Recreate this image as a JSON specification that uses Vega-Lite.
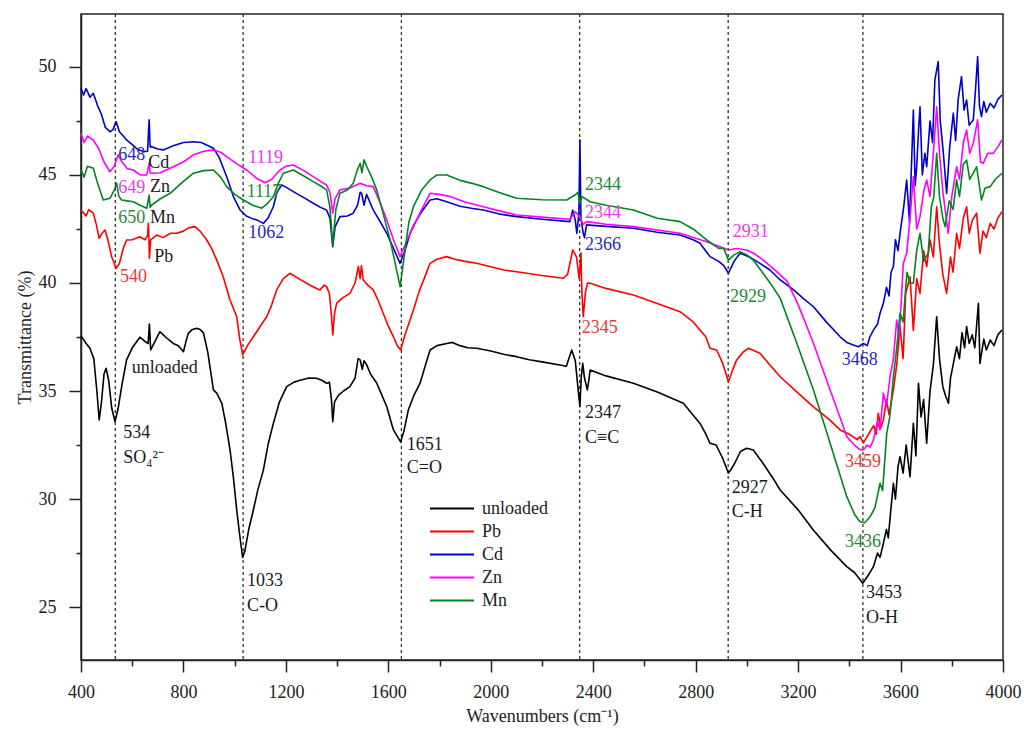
{
"$schema": "https://vega.github.io/schema/vega-lite/v6.json",
"width": 922, "height": 646,
"autosize": "none",
"padding": {"left": 81, "top": 14, "right": 21, "bottom": 78},
"background": "white",
"config": {
  "view": {"stroke": "#222", "strokeWidth": 1.5},
  "axis": {"grid": false, "domainColor": "#222", "domainWidth": 1.5, "tickColor": "#222", "tickWidth": 1.5, "labelColor": "#222", "labelFont": "Liberation Serif", "labelFontSize": 18, "titleFont": "Liberation Serif", "titleFontSize": 18, "titleFontWeight": "normal", "titleColor": "#222"}
},
"resolve": {"scale": {"color": "independent"}},
"layer": [
 {
  "data": {"values": [{"v": 534}, {"v": 1033}, {"v": 1651}, {"v": 2347}, {"v": 2927}, {"v": 3453}]},
  "mark": {"type": "rule", "color": "#333", "strokeWidth": 1.3, "strokeDash": [3, 3]},
  "encoding": {"x": {"field": "v", "type": "quantitative", "scale": {"domain": [400, 4000], "nice": false, "zero": false}}}
 },
 {
  "data": {"values": [
{"s":"unloaded","x":400,"y":37.55},{"s":"unloaded","x":420,"y":37.2},{"s":"unloaded","x":435,"y":36.98},{"s":"unloaded","x":450,"y":36.5},{"s":"unloaded","x":462,"y":35.0},{"s":"unloaded","x":471,"y":33.66},{"s":"unloaded","x":480,"y":34.5},{"s":"unloaded","x":490,"y":35.8},{"s":"unloaded","x":498,"y":36.05},{"s":"unloaded","x":508,"y":35.5},{"s":"unloaded","x":520,"y":34.2},{"s":"unloaded","x":533,"y":33.58},{"s":"unloaded","x":545,"y":34.2},{"s":"unloaded","x":560,"y":35.3},{"s":"unloaded","x":578,"y":36.44},{"s":"unloaded","x":600,"y":37.0},{"s":"unloaded","x":630,"y":37.49},{"s":"unloaded","x":650,"y":37.3},{"s":"unloaded","x":662,"y":37.2},{"s":"unloaded","x":667,"y":38.1},{"s":"unloaded","x":670,"y":37.4},{"s":"unloaded","x":672,"y":36.9},{"s":"unloaded","x":685,"y":37.2},{"s":"unloaded","x":708,"y":37.75},{"s":"unloaded","x":730,"y":37.5},{"s":"unloaded","x":760,"y":37.2},{"s":"unloaded","x":780,"y":37.1},{"s":"unloaded","x":800,"y":36.82},{"s":"unloaded","x":810,"y":37.3},{"s":"unloaded","x":819,"y":37.67},{"s":"unloaded","x":835,"y":37.85},{"s":"unloaded","x":852,"y":37.9},{"s":"unloaded","x":865,"y":37.85},{"s":"unloaded","x":878,"y":37.69},{"s":"unloaded","x":895,"y":36.8},{"s":"unloaded","x":917,"y":35.05},{"s":"unloaded","x":930,"y":34.9},{"s":"unloaded","x":950,"y":34.43},{"s":"unloaded","x":965,"y":33.5},{"s":"unloaded","x":982,"y":32.27},{"s":"unloaded","x":995,"y":31.0},{"s":"unloaded","x":1008,"y":29.49},{"s":"unloaded","x":1020,"y":28.3},{"s":"unloaded","x":1031,"y":27.3},{"s":"unloaded","x":1040,"y":27.6},{"s":"unloaded","x":1055,"y":28.6},{"s":"unloaded","x":1073,"y":29.49},{"s":"unloaded","x":1090,"y":30.4},{"s":"unloaded","x":1112,"y":31.34},{"s":"unloaded","x":1130,"y":32.5},{"s":"unloaded","x":1151,"y":33.5},{"s":"unloaded","x":1175,"y":34.5},{"s":"unloaded","x":1203,"y":35.2},{"s":"unloaded","x":1230,"y":35.4},{"s":"unloaded","x":1255,"y":35.5},{"s":"unloaded","x":1290,"y":35.6},{"s":"unloaded","x":1320,"y":35.59},{"s":"unloaded","x":1340,"y":35.5},{"s":"unloaded","x":1359,"y":35.36},{"s":"unloaded","x":1370,"y":35.4},{"s":"unloaded","x":1378,"y":34.6},{"s":"unloaded","x":1383,"y":33.58},{"s":"unloaded","x":1390,"y":34.5},{"s":"unloaded","x":1405,"y":34.8},{"s":"unloaded","x":1425,"y":35.0},{"s":"unloaded","x":1450,"y":35.2},{"s":"unloaded","x":1470,"y":35.6},{"s":"unloaded","x":1482,"y":36.5},{"s":"unloaded","x":1490,"y":36.44},{"s":"unloaded","x":1498,"y":36.0},{"s":"unloaded","x":1505,"y":36.4},{"s":"unloaded","x":1516,"y":36.2},{"s":"unloaded","x":1530,"y":35.8},{"s":"unloaded","x":1555,"y":35.36},{"s":"unloaded","x":1575,"y":34.8},{"s":"unloaded","x":1594,"y":34.27},{"s":"unloaded","x":1610,"y":33.6},{"s":"unloaded","x":1620,"y":33.2},{"s":"unloaded","x":1635,"y":32.9},{"s":"unloaded","x":1648,"y":32.65},{"s":"unloaded","x":1660,"y":33.1},{"s":"unloaded","x":1678,"y":34.12},{"s":"unloaded","x":1700,"y":34.8},{"s":"unloaded","x":1724,"y":35.36},{"s":"unloaded","x":1745,"y":36.2},{"s":"unloaded","x":1763,"y":36.9},{"s":"unloaded","x":1790,"y":37.1},{"s":"unloaded","x":1828,"y":37.2},{"s":"unloaded","x":1850,"y":37.25},{"s":"unloaded","x":1880,"y":37.1},{"s":"unloaded","x":1910,"y":37.0},{"s":"unloaded","x":1945,"y":36.98},{"s":"unloaded","x":2000,"y":36.85},{"s":"unloaded","x":2050,"y":36.7},{"s":"unloaded","x":2101,"y":36.59},{"s":"unloaded","x":2150,"y":36.45},{"s":"unloaded","x":2200,"y":36.35},{"s":"unloaded","x":2270,"y":36.2},{"s":"unloaded","x":2295,"y":36.15},{"s":"unloaded","x":2316,"y":36.9},{"s":"unloaded","x":2330,"y":36.4},{"s":"unloaded","x":2340,"y":35.2},{"s":"unloaded","x":2348,"y":34.27},{"s":"unloaded","x":2353,"y":35.6},{"s":"unloaded","x":2359,"y":36.28},{"s":"unloaded","x":2366,"y":35.6},{"s":"unloaded","x":2377,"y":35.05},{"s":"unloaded","x":2383,"y":35.5},{"s":"unloaded","x":2388,"y":35.97},{"s":"unloaded","x":2450,"y":35.7},{"s":"unloaded","x":2557,"y":35.36},{"s":"unloaded","x":2650,"y":34.95},{"s":"unloaded","x":2752,"y":34.43},{"s":"unloaded","x":2817,"y":33.5},{"s":"unloaded","x":2840,"y":33.0},{"s":"unloaded","x":2856,"y":32.58},{"s":"unloaded","x":2880,"y":32.5},{"s":"unloaded","x":2905,"y":31.9},{"s":"unloaded","x":2928,"y":31.19},{"s":"unloaded","x":2950,"y":31.6},{"s":"unloaded","x":2975,"y":32.2},{"s":"unloaded","x":2999,"y":32.35},{"s":"unloaded","x":3025,"y":32.27},{"s":"unloaded","x":3060,"y":31.7},{"s":"unloaded","x":3100,"y":31.0},{"s":"unloaded","x":3130,"y":30.42},{"s":"unloaded","x":3200,"y":29.5},{"s":"unloaded","x":3260,"y":28.56},{"s":"unloaded","x":3330,"y":27.6},{"s":"unloaded","x":3390,"y":26.87},{"s":"unloaded","x":3420,"y":26.6},{"s":"unloaded","x":3440,"y":26.3},{"s":"unloaded","x":3452,"y":26.1},{"s":"unloaded","x":3470,"y":26.4},{"s":"unloaded","x":3494,"y":26.87},{"s":"unloaded","x":3510,"y":27.5},{"s":"unloaded","x":3520,"y":27.3},{"s":"unloaded","x":3533,"y":27.95},{"s":"unloaded","x":3545,"y":28.6},{"s":"unloaded","x":3552,"y":28.2},{"s":"unloaded","x":3562,"y":29.5},{"s":"unloaded","x":3572,"y":30.73},{"s":"unloaded","x":3580,"y":30.0},{"s":"unloaded","x":3590,"y":31.5},{"s":"unloaded","x":3598,"y":31.96},{"s":"unloaded","x":3610,"y":31.2},{"s":"unloaded","x":3622,"y":32.5},{"s":"unloaded","x":3637,"y":31.03},{"s":"unloaded","x":3650,"y":33.5},{"s":"unloaded","x":3660,"y":32.0},{"s":"unloaded","x":3670,"y":35.36},{"s":"unloaded","x":3680,"y":33.8},{"s":"unloaded","x":3690,"y":34.6},{"s":"unloaded","x":3702,"y":32.58},{"s":"unloaded","x":3715,"y":35.0},{"s":"unloaded","x":3728,"y":36.2},{"s":"unloaded","x":3741,"y":38.44},{"s":"unloaded","x":3752,"y":36.5},{"s":"unloaded","x":3765,"y":35.2},{"s":"unloaded","x":3775,"y":34.8},{"s":"unloaded","x":3787,"y":34.43},{"s":"unloaded","x":3795,"y":35.6},{"s":"unloaded","x":3805,"y":36.2},{"s":"unloaded","x":3819,"y":37.05},{"s":"unloaded","x":3830,"y":36.5},{"s":"unloaded","x":3840,"y":37.7},{"s":"unloaded","x":3850,"y":37.0},{"s":"unloaded","x":3858,"y":37.98},{"s":"unloaded","x":3868,"y":37.2},{"s":"unloaded","x":3880,"y":37.6},{"s":"unloaded","x":3890,"y":37.0},{"s":"unloaded","x":3904,"y":39.06},{"s":"unloaded","x":3910,"y":36.28},{"s":"unloaded","x":3925,"y":37.4},{"s":"unloaded","x":3935,"y":36.9},{"s":"unloaded","x":3950,"y":37.36},{"s":"unloaded","x":3965,"y":37.1},{"s":"unloaded","x":3980,"y":37.6},{"s":"unloaded","x":3996,"y":37.82},
{"s":"Pb","x":400,"y":43.38},{"s":"Pb","x":420,"y":43.1},{"s":"Pb","x":430,"y":43.4},{"s":"Pb","x":448,"y":43.23},{"s":"Pb","x":460,"y":42.7},{"s":"Pb","x":471,"y":42.07},{"s":"Pb","x":482,"y":42.3},{"s":"Pb","x":494,"y":42.45},{"s":"Pb","x":505,"y":42.0},{"s":"Pb","x":520,"y":41.2},{"s":"Pb","x":537,"y":40.68},{"s":"Pb","x":550,"y":40.9},{"s":"Pb","x":565,"y":41.6},{"s":"Pb","x":578,"y":41.99},{"s":"Pb","x":600,"y":42.0},{"s":"Pb","x":630,"y":42.14},{"s":"Pb","x":650,"y":42.0},{"s":"Pb","x":660,"y":42.2},{"s":"Pb","x":663,"y":42.76},{"s":"Pb","x":665,"y":42.2},{"s":"Pb","x":667,"y":41.14},{"s":"Pb","x":672,"y":42.0},{"s":"Pb","x":696,"y":42.22},{"s":"Pb","x":720,"y":42.1},{"s":"Pb","x":750,"y":42.3},{"s":"Pb","x":774,"y":42.3},{"s":"Pb","x":800,"y":42.4},{"s":"Pb","x":820,"y":42.55},{"s":"Pb","x":845,"y":42.61},{"s":"Pb","x":865,"y":42.4},{"s":"Pb","x":891,"y":41.99},{"s":"Pb","x":910,"y":41.6},{"s":"Pb","x":930,"y":41.06},{"s":"Pb","x":955,"y":40.3},{"s":"Pb","x":982,"y":39.21},{"s":"Pb","x":1008,"y":38.44},{"s":"Pb","x":1020,"y":37.4},{"s":"Pb","x":1031,"y":36.67},{"s":"Pb","x":1050,"y":37.1},{"s":"Pb","x":1073,"y":37.51},{"s":"Pb","x":1100,"y":38.0},{"s":"Pb","x":1125,"y":38.44},{"s":"Pb","x":1145,"y":39.0},{"s":"Pb","x":1164,"y":39.68},{"s":"Pb","x":1190,"y":40.2},{"s":"Pb","x":1216,"y":40.45},{"s":"Pb","x":1250,"y":40.2},{"s":"Pb","x":1281,"y":39.99},{"s":"Pb","x":1310,"y":39.8},{"s":"Pb","x":1333,"y":39.68},{"s":"Pb","x":1350,"y":39.9},{"s":"Pb","x":1359,"y":39.83},{"s":"Pb","x":1370,"y":39.5},{"s":"Pb","x":1378,"y":38.5},{"s":"Pb","x":1383,"y":37.59},{"s":"Pb","x":1390,"y":38.6},{"s":"Pb","x":1398,"y":39.06},{"s":"Pb","x":1420,"y":39.3},{"s":"Pb","x":1450,"y":39.52},{"s":"Pb","x":1470,"y":40.0},{"s":"Pb","x":1483,"y":40.76},{"s":"Pb","x":1490,"y":40.2},{"s":"Pb","x":1495,"y":40.8},{"s":"Pb","x":1502,"y":40.14},{"s":"Pb","x":1520,"y":39.9},{"s":"Pb","x":1541,"y":39.68},{"s":"Pb","x":1560,"y":39.2},{"s":"Pb","x":1580,"y":38.6},{"s":"Pb","x":1600,"y":38.0},{"s":"Pb","x":1620,"y":37.51},{"s":"Pb","x":1635,"y":37.1},{"s":"Pb","x":1648,"y":36.9},{"s":"Pb","x":1665,"y":37.6},{"s":"Pb","x":1698,"y":38.75},{"s":"Pb","x":1720,"y":39.6},{"s":"Pb","x":1740,"y":40.2},{"s":"Pb","x":1763,"y":40.91},{"s":"Pb","x":1790,"y":41.1},{"s":"Pb","x":1828,"y":41.22},{"s":"Pb","x":1860,"y":41.1},{"s":"Pb","x":1900,"y":41.0},{"s":"Pb","x":1945,"y":40.91},{"s":"Pb","x":2000,"y":40.75},{"s":"Pb","x":2050,"y":40.6},{"s":"Pb","x":2101,"y":40.52},{"s":"Pb","x":2200,"y":40.35},{"s":"Pb","x":2283,"y":40.22},{"s":"Pb","x":2300,"y":40.4},{"s":"Pb","x":2320,"y":41.53},{"s":"Pb","x":2335,"y":41.2},{"s":"Pb","x":2345,"y":40.2},{"s":"Pb","x":2352,"y":41.4},{"s":"Pb","x":2356,"y":39.5},{"s":"Pb","x":2361,"y":38.44},{"s":"Pb","x":2370,"y":39.6},{"s":"Pb","x":2378,"y":40.0},{"s":"Pb","x":2388,"y":39.99},{"s":"Pb","x":2450,"y":39.75},{"s":"Pb","x":2557,"y":39.44},{"s":"Pb","x":2650,"y":39.05},{"s":"Pb","x":2739,"y":38.67},{"s":"Pb","x":2790,"y":38.2},{"s":"Pb","x":2817,"y":37.82},{"s":"Pb","x":2840,"y":37.5},{"s":"Pb","x":2856,"y":36.98},{"s":"Pb","x":2882,"y":36.9},{"s":"Pb","x":2905,"y":36.3},{"s":"Pb","x":2928,"y":35.43},{"s":"Pb","x":2945,"y":36.0},{"s":"Pb","x":2960,"y":36.44},{"s":"Pb","x":2985,"y":36.8},{"s":"Pb","x":3006,"y":36.98},{"s":"Pb","x":3051,"y":36.75},{"s":"Pb","x":3090,"y":36.2},{"s":"Pb","x":3130,"y":35.66},{"s":"Pb","x":3200,"y":34.9},{"s":"Pb","x":3260,"y":34.27},{"s":"Pb","x":3320,"y":33.7},{"s":"Pb","x":3364,"y":33.2},{"s":"Pb","x":3400,"y":33.0},{"s":"Pb","x":3430,"y":32.75},{"s":"Pb","x":3442,"y":32.89},{"s":"Pb","x":3455,"y":32.6},{"s":"Pb","x":3470,"y":32.9},{"s":"Pb","x":3481,"y":33.12},{"s":"Pb","x":3495,"y":33.4},{"s":"Pb","x":3505,"y":33.0},{"s":"Pb","x":3513,"y":33.97},{"s":"Pb","x":3523,"y":33.3},{"s":"Pb","x":3533,"y":33.66},{"s":"Pb","x":3545,"y":34.6},{"s":"Pb","x":3555,"y":33.9},{"s":"Pb","x":3572,"y":35.05},{"s":"Pb","x":3585,"y":36.2},{"s":"Pb","x":3598,"y":37.98},{"s":"Pb","x":3610,"y":36.5},{"s":"Pb","x":3620,"y":39.5},{"s":"Pb","x":3637,"y":40.29},{"s":"Pb","x":3650,"y":37.8},{"s":"Pb","x":3663,"y":40.2},{"s":"Pb","x":3676,"y":39.52},{"s":"Pb","x":3690,"y":41.5},{"s":"Pb","x":3702,"y":40.76},{"s":"Pb","x":3715,"y":42.0},{"s":"Pb","x":3728,"y":41.2},{"s":"Pb","x":3741,"y":43.53},{"s":"Pb","x":3752,"y":41.8},{"s":"Pb","x":3765,"y":40.4},{"s":"Pb","x":3780,"y":39.52},{"s":"Pb","x":3795,"y":41.2},{"s":"Pb","x":3805,"y":40.5},{"s":"Pb","x":3819,"y":42.3},{"s":"Pb","x":3830,"y":41.6},{"s":"Pb","x":3845,"y":43.0},{"s":"Pb","x":3858,"y":43.53},{"s":"Pb","x":3868,"y":42.3},{"s":"Pb","x":3880,"y":42.9},{"s":"Pb","x":3897,"y":43.23},{"s":"Pb","x":3910,"y":41.38},{"s":"Pb","x":3922,"y":42.4},{"s":"Pb","x":3935,"y":42.1},{"s":"Pb","x":3950,"y":42.76},{"s":"Pb","x":3965,"y":42.5},{"s":"Pb","x":3980,"y":43.0},{"s":"Pb","x":3996,"y":43.3},
{"s":"Cd","x":400,"y":49.01},{"s":"Cd","x":410,"y":48.7},{"s":"Cd","x":420,"y":49.0},{"s":"Cd","x":435,"y":48.6},{"s":"Cd","x":448,"y":48.78},{"s":"Cd","x":465,"y":48.2},{"s":"Cd","x":480,"y":47.8},{"s":"Cd","x":495,"y":47.2},{"s":"Cd","x":513,"y":47.0},{"s":"Cd","x":525,"y":47.1},{"s":"Cd","x":537,"y":47.47},{"s":"Cd","x":550,"y":47.0},{"s":"Cd","x":565,"y":46.8},{"s":"Cd","x":578,"y":46.62},{"s":"Cd","x":600,"y":46.4},{"s":"Cd","x":620,"y":46.2},{"s":"Cd","x":643,"y":46.08},{"s":"Cd","x":660,"y":46.1},{"s":"Cd","x":666,"y":47.55},{"s":"Cd","x":670,"y":46.3},{"s":"Cd","x":676,"y":46.31},{"s":"Cd","x":700,"y":46.2},{"s":"Cd","x":721,"y":46.16},{"s":"Cd","x":760,"y":46.35},{"s":"Cd","x":800,"y":46.5},{"s":"Cd","x":839,"y":46.54},{"s":"Cd","x":870,"y":46.5},{"s":"Cd","x":917,"y":46.24},{"s":"Cd","x":940,"y":45.8},{"s":"Cd","x":969,"y":44.92},{"s":"Cd","x":995,"y":44.0},{"s":"Cd","x":1021,"y":43.38},{"s":"Cd","x":1045,"y":43.1},{"s":"Cd","x":1067,"y":42.99},{"s":"Cd","x":1090,"y":42.9},{"s":"Cd","x":1112,"y":42.76},{"s":"Cd","x":1130,"y":43.0},{"s":"Cd","x":1151,"y":43.53},{"s":"Cd","x":1165,"y":44.2},{"s":"Cd","x":1184,"y":44.54},{"s":"Cd","x":1205,"y":44.4},{"s":"Cd","x":1229,"y":44.23},{"s":"Cd","x":1270,"y":43.95},{"s":"Cd","x":1307,"y":43.69},{"s":"Cd","x":1335,"y":43.5},{"s":"Cd","x":1359,"y":43.38},{"s":"Cd","x":1372,"y":43.0},{"s":"Cd","x":1383,"y":41.68},{"s":"Cd","x":1392,"y":42.6},{"s":"Cd","x":1411,"y":43.07},{"s":"Cd","x":1440,"y":43.1},{"s":"Cd","x":1463,"y":43.23},{"s":"Cd","x":1480,"y":43.6},{"s":"Cd","x":1490,"y":44.2},{"s":"Cd","x":1496,"y":44.15},{"s":"Cd","x":1505,"y":43.6},{"s":"Cd","x":1515,"y":44.1},{"s":"Cd","x":1541,"y":43.38},{"s":"Cd","x":1570,"y":42.8},{"s":"Cd","x":1594,"y":42.3},{"s":"Cd","x":1620,"y":41.6},{"s":"Cd","x":1646,"y":40.91},{"s":"Cd","x":1665,"y":41.5},{"s":"Cd","x":1685,"y":42.3},{"s":"Cd","x":1700,"y":42.7},{"s":"Cd","x":1715,"y":43.0},{"s":"Cd","x":1730,"y":43.3},{"s":"Cd","x":1763,"y":43.84},{"s":"Cd","x":1790,"y":43.9},{"s":"Cd","x":1828,"y":43.76},{"s":"Cd","x":1880,"y":43.55},{"s":"Cd","x":1930,"y":43.45},{"s":"Cd","x":1971,"y":43.38},{"s":"Cd","x":2030,"y":43.2},{"s":"Cd","x":2101,"y":43.07},{"s":"Cd","x":2200,"y":42.95},{"s":"Cd","x":2309,"y":42.84},{"s":"Cd","x":2320,"y":43.38},{"s":"Cd","x":2330,"y":42.9},{"s":"Cd","x":2336,"y":42.3},{"s":"Cd","x":2344,"y":43.2},{"s":"Cd","x":2348,"y":46.62},{"s":"Cd","x":2352,"y":43.0},{"s":"Cd","x":2361,"y":42.3},{"s":"Cd","x":2366,"y":42.1},{"s":"Cd","x":2374,"y":42.69},{"s":"Cd","x":2450,"y":42.62},{"s":"Cd","x":2557,"y":42.53},{"s":"Cd","x":2650,"y":42.35},{"s":"Cd","x":2739,"y":42.22},{"s":"Cd","x":2790,"y":42.0},{"s":"Cd","x":2817,"y":41.84},{"s":"Cd","x":2856,"y":41.22},{"s":"Cd","x":2890,"y":41.0},{"s":"Cd","x":2910,"y":40.8},{"s":"Cd","x":2928,"y":40.45},{"s":"Cd","x":2950,"y":41.0},{"s":"Cd","x":2973,"y":41.38},{"s":"Cd","x":3010,"y":41.2},{"s":"Cd","x":3051,"y":40.91},{"s":"Cd","x":3090,"y":40.6},{"s":"Cd","x":3130,"y":40.14},{"s":"Cd","x":3180,"y":39.7},{"s":"Cd","x":3220,"y":39.29},{"s":"Cd","x":3260,"y":38.9},{"s":"Cd","x":3310,"y":38.2},{"s":"Cd","x":3364,"y":37.51},{"s":"Cd","x":3390,"y":37.25},{"s":"Cd","x":3416,"y":37.13},{"s":"Cd","x":3435,"y":37.05},{"s":"Cd","x":3455,"y":37.2},{"s":"Cd","x":3470,"y":37.1},{"s":"Cd","x":3480,"y":37.5},{"s":"Cd","x":3494,"y":37.82},{"s":"Cd","x":3510,"y":38.1},{"s":"Cd","x":3520,"y":38.6},{"s":"Cd","x":3533,"y":39.06},{"s":"Cd","x":3545,"y":39.8},{"s":"Cd","x":3555,"y":39.4},{"s":"Cd","x":3563,"y":40.5},{"s":"Cd","x":3572,"y":40.76},{"s":"Cd","x":3580,"y":42.0},{"s":"Cd","x":3590,"y":41.5},{"s":"Cd","x":3598,"y":42.3},{"s":"Cd","x":3612,"y":43.5},{"s":"Cd","x":3624,"y":44.77},{"s":"Cd","x":3635,"y":42.8},{"s":"Cd","x":3650,"y":48.01},{"s":"Cd","x":3657,"y":44.5},{"s":"Cd","x":3663,"y":45.38},{"s":"Cd","x":3670,"y":47.0},{"s":"Cd","x":3676,"y":48.16},{"s":"Cd","x":3685,"y":45.0},{"s":"Cd","x":3695,"y":46.0},{"s":"Cd","x":3702,"y":45.38},{"s":"Cd","x":3715,"y":47.5},{"s":"Cd","x":3725,"y":46.5},{"s":"Cd","x":3734,"y":49.4},{"s":"Cd","x":3747,"y":50.25},{"s":"Cd","x":3755,"y":47.5},{"s":"Cd","x":3766,"y":46.16},{"s":"Cd","x":3780,"y":44.15},{"s":"Cd","x":3792,"y":46.3},{"s":"Cd","x":3806,"y":47.86},{"s":"Cd","x":3815,"y":46.6},{"s":"Cd","x":3825,"y":48.5},{"s":"Cd","x":3838,"y":49.55},{"s":"Cd","x":3848,"y":48.0},{"s":"Cd","x":3858,"y":48.47},{"s":"Cd","x":3868,"y":47.3},{"s":"Cd","x":3884,"y":47.55},{"s":"Cd","x":3893,"y":49.0},{"s":"Cd","x":3901,"y":50.48},{"s":"Cd","x":3908,"y":48.2},{"s":"Cd","x":3916,"y":47.7},{"s":"Cd","x":3925,"y":48.4},{"s":"Cd","x":3935,"y":47.9},{"s":"Cd","x":3950,"y":48.32},{"s":"Cd","x":3965,"y":48.1},{"s":"Cd","x":3980,"y":48.5},{"s":"Cd","x":3996,"y":48.7},
{"s":"Zn","x":400,"y":46.93},{"s":"Zn","x":412,"y":46.5},{"s":"Zn","x":425,"y":46.8},{"s":"Zn","x":448,"y":46.62},{"s":"Zn","x":470,"y":46.2},{"s":"Zn","x":490,"y":45.6},{"s":"Zn","x":513,"y":45.15},{"s":"Zn","x":530,"y":45.4},{"s":"Zn","x":545,"y":45.93},{"s":"Zn","x":560,"y":45.6},{"s":"Zn","x":580,"y":45.3},{"s":"Zn","x":604,"y":45.23},{"s":"Zn","x":630,"y":45.0},{"s":"Zn","x":657,"y":45.0},{"s":"Zn","x":666,"y":45.54},{"s":"Zn","x":670,"y":45.1},{"s":"Zn","x":676,"y":45.08},{"s":"Zn","x":710,"y":45.1},{"s":"Zn","x":748,"y":45.31},{"s":"Zn","x":800,"y":45.6},{"s":"Zn","x":839,"y":45.93},{"s":"Zn","x":880,"y":46.1},{"s":"Zn","x":917,"y":46.16},{"s":"Zn","x":945,"y":46.05},{"s":"Zn","x":969,"y":45.85},{"s":"Zn","x":1010,"y":45.5},{"s":"Zn","x":1047,"y":45.23},{"s":"Zn","x":1085,"y":44.85},{"s":"Zn","x":1119,"y":44.64},{"s":"Zn","x":1145,"y":44.8},{"s":"Zn","x":1177,"y":45.23},{"s":"Zn","x":1200,"y":45.4},{"s":"Zn","x":1229,"y":45.46},{"s":"Zn","x":1270,"y":45.2},{"s":"Zn","x":1307,"y":44.92},{"s":"Zn","x":1335,"y":44.7},{"s":"Zn","x":1359,"y":44.54},{"s":"Zn","x":1372,"y":44.2},{"s":"Zn","x":1383,"y":43.23},{"s":"Zn","x":1392,"y":43.9},{"s":"Zn","x":1411,"y":44.31},{"s":"Zn","x":1450,"y":44.4},{"s":"Zn","x":1490,"y":44.62},{"s":"Zn","x":1515,"y":44.5},{"s":"Zn","x":1541,"y":44.46},{"s":"Zn","x":1565,"y":43.8},{"s":"Zn","x":1594,"y":42.92},{"s":"Zn","x":1620,"y":42.0},{"s":"Zn","x":1646,"y":41.22},{"s":"Zn","x":1670,"y":41.9},{"s":"Zn","x":1698,"y":42.61},{"s":"Zn","x":1730,"y":43.4},{"s":"Zn","x":1763,"y":44.15},{"s":"Zn","x":1800,"y":44.1},{"s":"Zn","x":1841,"y":44.0},{"s":"Zn","x":1900,"y":43.75},{"s":"Zn","x":1971,"y":43.53},{"s":"Zn","x":2030,"y":43.35},{"s":"Zn","x":2101,"y":43.15},{"s":"Zn","x":2200,"y":43.05},{"s":"Zn","x":2309,"y":42.95},{"s":"Zn","x":2330,"y":43.3},{"s":"Zn","x":2348,"y":43.07},{"s":"Zn","x":2360,"y":42.7},{"s":"Zn","x":2374,"y":42.84},{"s":"Zn","x":2450,"y":42.72},{"s":"Zn","x":2557,"y":42.61},{"s":"Zn","x":2650,"y":42.45},{"s":"Zn","x":2739,"y":42.3},{"s":"Zn","x":2843,"y":41.91},{"s":"Zn","x":2890,"y":41.7},{"s":"Zn","x":2928,"y":41.53},{"s":"Zn","x":2960,"y":41.6},{"s":"Zn","x":2999,"y":41.53},{"s":"Zn","x":3030,"y":41.35},{"s":"Zn","x":3064,"y":41.06},{"s":"Zn","x":3100,"y":40.7},{"s":"Zn","x":3156,"y":40.1},{"s":"Zn","x":3200,"y":39.0},{"s":"Zn","x":3260,"y":37.21},{"s":"Zn","x":3290,"y":36.2},{"s":"Zn","x":3325,"y":35.05},{"s":"Zn","x":3360,"y":33.9},{"s":"Zn","x":3390,"y":32.89},{"s":"Zn","x":3420,"y":32.5},{"s":"Zn","x":3440,"y":32.3},{"s":"Zn","x":3455,"y":32.27},{"s":"Zn","x":3470,"y":32.5},{"s":"Zn","x":3481,"y":32.4},{"s":"Zn","x":3494,"y":32.73},{"s":"Zn","x":3510,"y":33.6},{"s":"Zn","x":3520,"y":33.2},{"s":"Zn","x":3533,"y":34.9},{"s":"Zn","x":3545,"y":34.3},{"s":"Zn","x":3559,"y":35.66},{"s":"Zn","x":3572,"y":36.5},{"s":"Zn","x":3585,"y":38.29},{"s":"Zn","x":3595,"y":37.5},{"s":"Zn","x":3611,"y":40.91},{"s":"Zn","x":3624,"y":41.38},{"s":"Zn","x":3637,"y":43.0},{"s":"Zn","x":3650,"y":44.92},{"s":"Zn","x":3663,"y":42.5},{"s":"Zn","x":3676,"y":43.07},{"s":"Zn","x":3690,"y":44.2},{"s":"Zn","x":3702,"y":44.77},{"s":"Zn","x":3715,"y":44.0},{"s":"Zn","x":3728,"y":46.0},{"s":"Zn","x":3741,"y":48.16},{"s":"Zn","x":3752,"y":46.0},{"s":"Zn","x":3766,"y":44.15},{"s":"Zn","x":3786,"y":42.3},{"s":"Zn","x":3800,"y":44.0},{"s":"Zn","x":3819,"y":45.38},{"s":"Zn","x":3830,"y":44.8},{"s":"Zn","x":3845,"y":46.5},{"s":"Zn","x":3858,"y":47.08},{"s":"Zn","x":3870,"y":46.0},{"s":"Zn","x":3884,"y":46.47},{"s":"Zn","x":3901,"y":47.55},{"s":"Zn","x":3912,"y":45.6},{"s":"Zn","x":3923,"y":45.54},{"s":"Zn","x":3940,"y":46.0},{"s":"Zn","x":3962,"y":46.0},{"s":"Zn","x":3980,"y":46.3},{"s":"Zn","x":3996,"y":46.62},
{"s":"Mn","x":400,"y":45.23},{"s":"Mn","x":412,"y":44.9},{"s":"Mn","x":425,"y":45.4},{"s":"Mn","x":448,"y":45.31},{"s":"Mn","x":465,"y":44.6},{"s":"Mn","x":487,"y":43.84},{"s":"Mn","x":513,"y":43.92},{"s":"Mn","x":530,"y":44.3},{"s":"Mn","x":539,"y":44.62},{"s":"Mn","x":548,"y":44.0},{"s":"Mn","x":559,"y":43.84},{"s":"Mn","x":580,"y":43.8},{"s":"Mn","x":604,"y":43.76},{"s":"Mn","x":630,"y":43.6},{"s":"Mn","x":657,"y":43.46},{"s":"Mn","x":666,"y":44.07},{"s":"Mn","x":670,"y":43.5},{"s":"Mn","x":676,"y":43.61},{"s":"Mn","x":710,"y":43.9},{"s":"Mn","x":748,"y":44.15},{"s":"Mn","x":800,"y":44.7},{"s":"Mn","x":839,"y":45.08},{"s":"Mn","x":880,"y":45.2},{"s":"Mn","x":917,"y":45.23},{"s":"Mn","x":945,"y":44.9},{"s":"Mn","x":969,"y":44.46},{"s":"Mn","x":1000,"y":44.1},{"s":"Mn","x":1034,"y":43.84},{"s":"Mn","x":1070,"y":43.6},{"s":"Mn","x":1106,"y":43.46},{"s":"Mn","x":1130,"y":43.7},{"s":"Mn","x":1151,"y":44.0},{"s":"Mn","x":1170,"y":44.6},{"s":"Mn","x":1190,"y":45.08},{"s":"Mn","x":1229,"y":45.23},{"s":"Mn","x":1270,"y":44.95},{"s":"Mn","x":1307,"y":44.69},{"s":"Mn","x":1335,"y":44.5},{"s":"Mn","x":1359,"y":44.31},{"s":"Mn","x":1372,"y":43.5},{"s":"Mn","x":1383,"y":41.76},{"s":"Mn","x":1395,"y":43.4},{"s":"Mn","x":1411,"y":44.15},{"s":"Mn","x":1440,"y":44.3},{"s":"Mn","x":1463,"y":44.62},{"s":"Mn","x":1478,"y":45.2},{"s":"Mn","x":1490,"y":45.54},{"s":"Mn","x":1497,"y":45.1},{"s":"Mn","x":1505,"y":45.7},{"s":"Mn","x":1516,"y":45.38},{"s":"Mn","x":1535,"y":44.9},{"s":"Mn","x":1555,"y":44.31},{"s":"Mn","x":1580,"y":43.2},{"s":"Mn","x":1607,"y":41.99},{"s":"Mn","x":1625,"y":41.0},{"s":"Mn","x":1646,"y":39.83},{"s":"Mn","x":1665,"y":41.5},{"s":"Mn","x":1680,"y":42.8},{"s":"Mn","x":1698,"y":43.53},{"s":"Mn","x":1730,"y":44.3},{"s":"Mn","x":1763,"y":44.77},{"s":"Mn","x":1790,"y":45.0},{"s":"Mn","x":1828,"y":45.0},{"s":"Mn","x":1880,"y":44.75},{"s":"Mn","x":1930,"y":44.6},{"s":"Mn","x":1971,"y":44.46},{"s":"Mn","x":2030,"y":44.2},{"s":"Mn","x":2101,"y":43.92},{"s":"Mn","x":2200,"y":43.85},{"s":"Mn","x":2296,"y":43.84},{"s":"Mn","x":2329,"y":44.07},{"s":"Mn","x":2340,"y":44.2},{"s":"Mn","x":2348,"y":43.69},{"s":"Mn","x":2356,"y":44.0},{"s":"Mn","x":2388,"y":43.76},{"s":"Mn","x":2450,"y":43.6},{"s":"Mn","x":2557,"y":43.38},{"s":"Mn","x":2650,"y":43.0},{"s":"Mn","x":2739,"y":42.84},{"s":"Mn","x":2790,"y":42.5},{"s":"Mn","x":2843,"y":41.99},{"s":"Mn","x":2890,"y":41.6},{"s":"Mn","x":2910,"y":41.6},{"s":"Mn","x":2928,"y":41.06},{"s":"Mn","x":2950,"y":41.3},{"s":"Mn","x":2973,"y":41.45},{"s":"Mn","x":3000,"y":41.3},{"s":"Mn","x":3025,"y":41.06},{"s":"Mn","x":3060,"y":40.5},{"s":"Mn","x":3091,"y":40.0},{"s":"Mn","x":3130,"y":39.3},{"s":"Mn","x":3195,"y":37.21},{"s":"Mn","x":3260,"y":35.05},{"s":"Mn","x":3325,"y":32.58},{"s":"Mn","x":3390,"y":30.11},{"s":"Mn","x":3420,"y":29.3},{"s":"Mn","x":3442,"y":28.95},{"s":"Mn","x":3460,"y":28.9},{"s":"Mn","x":3481,"y":29.18},{"s":"Mn","x":3500,"y":29.6},{"s":"Mn","x":3520,"y":30.73},{"s":"Mn","x":3530,"y":30.4},{"s":"Mn","x":3546,"y":33.04},{"s":"Mn","x":3558,"y":33.8},{"s":"Mn","x":3572,"y":35.66},{"s":"Mn","x":3585,"y":37.0},{"s":"Mn","x":3598,"y":38.6},{"s":"Mn","x":3610,"y":38.2},{"s":"Mn","x":3625,"y":40.5},{"s":"Mn","x":3637,"y":39.99},{"s":"Mn","x":3650,"y":39.99},{"s":"Mn","x":3663,"y":41.5},{"s":"Mn","x":3676,"y":42.3},{"s":"Mn","x":3690,"y":41.0},{"s":"Mn","x":3708,"y":41.38},{"s":"Mn","x":3720,"y":43.5},{"s":"Mn","x":3730,"y":44.0},{"s":"Mn","x":3741,"y":46.0},{"s":"Mn","x":3752,"y":44.0},{"s":"Mn","x":3765,"y":43.0},{"s":"Mn","x":3774,"y":42.61},{"s":"Mn","x":3790,"y":43.8},{"s":"Mn","x":3805,"y":43.4},{"s":"Mn","x":3819,"y":44.77},{"s":"Mn","x":3830,"y":44.0},{"s":"Mn","x":3845,"y":45.5},{"s":"Mn","x":3858,"y":45.69},{"s":"Mn","x":3870,"y":44.8},{"s":"Mn","x":3880,"y":45.0},{"s":"Mn","x":3897,"y":45.38},{"s":"Mn","x":3916,"y":43.84},{"s":"Mn","x":3930,"y":44.4},{"s":"Mn","x":3950,"y":44.46},{"s":"Mn","x":3970,"y":44.8},{"s":"Mn","x":3996,"y":45.08}
  ]},
  "mark": {"type": "line", "strokeWidth": 1.6, "strokeJoin": "round"},
  "encoding": {
    "x": {"field": "x", "type": "quantitative", "scale": {"domain": [400, 4000], "nice": false, "zero": false},
          "axis": {"orient": "bottom", "values": [400, 600, 800, 1000, 1200, 1400, 1600, 1800, 2000, 2200, 2400, 2600, 2800, 3000, 3200, 3400, 3600, 3800, 4000],
                   "tickSize": {"condition": {"test": "datum.value % 400 === 0", "value": 12}, "value": 6},
                   "labelExpr": "datum.value % 400 === 0 ? format(datum.value, 'd') : ''",
                   "labelPadding": 11, "labelFlush": false, "labelOverlap": false, "title": "Wavenumbers (cm⁻¹)", "titlePadding": 6}},
    "y": {"field": "y", "type": "quantitative", "scale": {"domain": [22.55, 52.45], "nice": false, "zero": false},
          "axis": {"orient": "left", "values": [25, 27.5, 30, 32.5, 35, 37.5, 40, 42.5, 45, 47.5, 50],
                   "tickSize": {"condition": {"test": "datum.value % 5 === 0", "value": 12}, "value": 5},
                   "labelExpr": "datum.value % 5 === 0 ? format(datum.value, 'd') : ''",
                   "labelPadding": 13, "labelFlush": false, "labelOverlap": false, "title": "Transmittance (%)", "titlePadding": 4}},
    "color": {"field": "s", "type": "nominal",
      "scale": {"domain": ["unloaded", "Pb", "Cd", "Zn", "Mn"], "range": ["#000000", "#ff0000", "#0000cc", "#ff00ff", "#00861f"]},
      "legend": {"orient": "none", "legendX": 348, "legendY": 484, "title": null, "symbolType": "stroke", "symbolSize": 1936, "symbolStrokeWidth": 2, "labelFont": "Liberation Serif", "labelFontSize": 18, "labelColor": "#222", "clipHeight": 21, "rowPadding": 2, "labelOffset": 7, "padding": 0}}
  }
 },
 {
  "data": {"values": [
    {"x":545,"y":45.93,"t":"648","s":"Cd"},{"x":663,"y":45.56,"t":"Cd","s":"unloaded"},
    {"x":545,"y":44.38,"t":"649","s":"Zn"},{"x":669,"y":44.42,"t":"Zn","s":"unloaded"},
    {"x":545,"y":43.0,"t":"650","s":"Mn"},{"x":669,"y":43.0,"t":"Mn","s":"unloaded"},
    {"x":686,"y":41.22,"t":"Pb","s":"unloaded"},{"x":552,"y":40.29,"t":"540","s":"Pb"},
    {"x":1053,"y":45.77,"t":"1119","s":"Zn"},{"x":1047,"y":44.23,"t":"1117","s":"Mn"},{"x":1053,"y":42.3,"t":"1062","s":"Cd"},
    {"x":598,"y":36.05,"t":"unloaded","s":"unloaded"},
    {"x":565,"y":33.04,"t":"534","s":"unloaded"},{"x":565,"y":31.88,"t":"SO₄²⁻","s":"unloaded"},
    {"x":1048,"y":26.2,"t":"1033","s":"unloaded"},{"x":1048,"y":25.05,"t":"C-O","s":"unloaded"},
    {"x":1672,"y":32.5,"t":"1651","s":"unloaded"},{"x":1672,"y":31.42,"t":"C=O","s":"unloaded"},
    {"x":2355,"y":37.9,"t":"2345","s":"Pb"},
    {"x":2368,"y":33.97,"t":"2347","s":"unloaded"},{"x":2368,"y":32.81,"t":"C≡C","s":"unloaded"},
    {"x":2368,"y":44.54,"t":"2344","s":"Mn"},{"x":2368,"y":43.23,"t":"2344","s":"Zn"},{"x":2368,"y":41.76,"t":"2366","s":"Cd"},
    {"x":2945,"y":42.38,"t":"2931","s":"Zn"},{"x":2934,"y":39.37,"t":"2929","s":"Mn"},
    {"x":2941,"y":30.5,"t":"2927","s":"unloaded"},{"x":2941,"y":29.41,"t":"C-H","s":"unloaded"},
    {"x":3370,"y":36.44,"t":"3468","s":"Cd"},{"x":3383,"y":31.73,"t":"3459","s":"Pb"},{"x":3383,"y":28.02,"t":"3436","s":"Mn"},
    {"x":3465,"y":25.63,"t":"3453","s":"unloaded"},{"x":3465,"y":24.48,"t":"O-H","s":"unloaded"}
  ]},
  "mark": {"type": "text", "align": "left", "baseline": "middle", "font": "Liberation Serif", "fontSize": 18},
  "encoding": {
    "x": {"field": "x", "type": "quantitative", "scale": {"domain": [400, 4000], "nice": false, "zero": false}},
    "y": {"field": "y", "type": "quantitative", "scale": {"domain": [22.55, 52.45], "nice": false, "zero": false}},
    "text": {"field": "t"},
    "color": {"field": "s", "type": "nominal", "legend": null,
      "scale": {"domain": ["unloaded", "Pb", "Cd", "Zn", "Mn"], "range": ["#1a1a1a", "#e8383c", "#2a2ab0", "#ec3aec", "#1f8a36"]}}
  }
 }
]
}
